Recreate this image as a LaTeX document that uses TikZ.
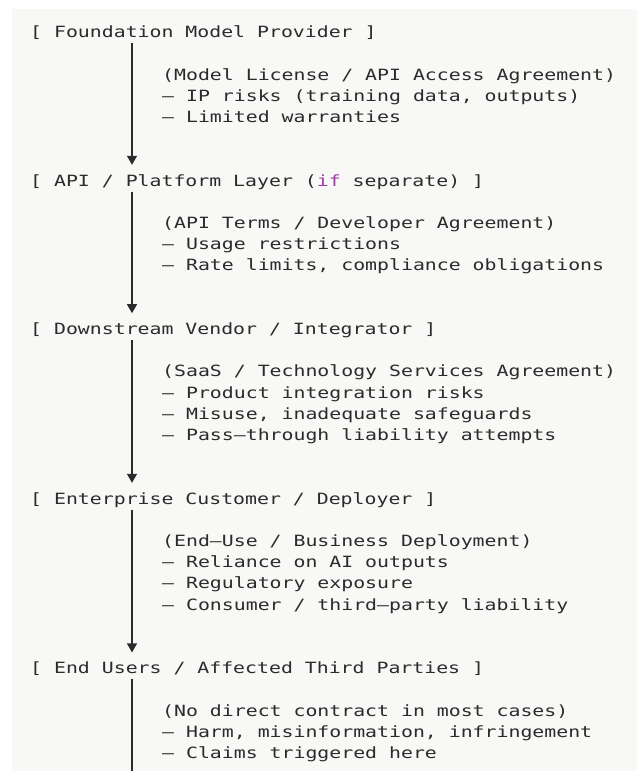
\documentclass[tikz,border=0pt]{standalone}
\usepackage{fontspec}
\setmonofont[FakeStretch=1.28]{DejaVu Sans Mono}
\usetikzlibrary{arrows.meta}
\definecolor{ink}{HTML}{2B2B2B}
\definecolor{paper}{HTML}{F8F8F6}
\definecolor{kw}{HTML}{A03CAA}

\begin{document}
\begin{tikzpicture}[x=1pt, y=-1pt, >={Triangle[width=10pt, length=9pt]},
	every node/.style={font=\ttfamily\fontsize{15.5}{21.2}\selectfont, text=ink, inner sep=0pt},
	party/.style={anchor=base west, text height=21pt, text depth=5.4pt},
	terms/.style={anchor=base west, align=left},
	flow/.style={draw=ink, line width=1.2pt}]
	\useasboundingbox (0,0) rectangle (637,771);
	\fill[paper] (12,9) rectangle (637,771);
	\coordinate (col) at (132,0);
	\coordinate (cut) at (132,771);
	% parties
	\node[party] (fmp) at (30,37.6) {[ Foundation Model Provider ]};
	\node[party] (api) at (30,186) {[ API / Platform Layer ({\color{kw}if} separate) ]};
	\node[party] (dsv) at (30,334.4) {[ Downstream Vendor / Integrator ]};
	\node[party] (ent) at (30,504) {[ Enterprise Customer / Deployer ]};
	\node[party] (usr) at (30,673.6) {[ End Users / Affected Third Parties ]};
	% agreements and risks (placed by their last line)
	\node[terms] (t1) at (162,122.4) {(Model License / API Access Agreement)\\– IP risks (training data, outputs)\\– Limited warranties};
	\node[terms] (t2) at (162,270.8) {(API Terms / Developer Agreement)\\– Usage restrictions\\– Rate limits, compliance obligations};
	\node[terms] (t3) at (162,440.4) {(SaaS / Technology Services Agreement)\\– Product integration risks\\– Misuse, inadequate safeguards\\– Pass–through liability attempts};
	\node[terms] (t4) at (162,610) {(End–Use / Business Deployment)\\– Reliance on AI outputs\\– Regulatory exposure\\– Consumer / third–party liability};
	\node[terms] (t5) at (162,758.4) {(No direct contract in most cases)\\– Harm, misinformation, infringement\\– Claims triggered here};
	% chain
	\draw[flow, ->] (fmp.south -| col) -- (api.north -| col);
	\draw[flow, ->] (api.south -| col) -- (dsv.north -| col);
	\draw[flow, ->] (dsv.south -| col) -- (ent.north -| col);
	\draw[flow, ->] (ent.south -| col) -- (usr.north -| col);
	\draw[flow] (usr.south -| col) -- (cut);
\end{tikzpicture}
\end{document}
